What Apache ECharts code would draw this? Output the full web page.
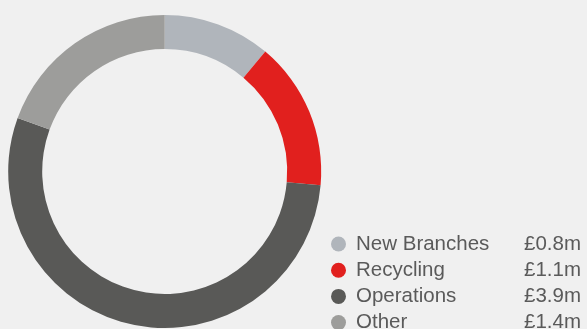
<!DOCTYPE html>
<html><head><meta charset="utf-8">
<script src="https://cdn.jsdelivr.net/npm/echarts@6/dist/echarts.min.js"></script>
<style>html,body{margin:0;padding:0;background:#f0f0f0;}#c{width:587px;height:329px;}</style>
</head><body><div id="c"></div>
<script>
const categories = ['New Branches', 'Recycling', 'Operations', 'Other'];
const values = [0.8, 1.1, 3.9, 1.4];
const colors = ['#b0b5bb', '#e1201e', '#595957', '#9d9d9b'];

const chart = echarts.init(document.getElementById('c'), null, {renderer: 'canvas'});
const data = categories.map((n, i) => ({name: n, value: values[i], itemStyle: {color: colors[i]}}));
const ff = 'Liberation Sans, Arial, sans-serif';
const fs = 20.5;
const ctx = document.createElement('canvas').getContext('2d');
ctx.font = fs + 'px ' + ff;
const rich = {
  n: {width: 160, padding: [0, 0, 0, 5], fontSize: fs, color: '#5a5a5a', fontFamily: ff}
};
categories.forEach((c, i) => {
  const t = '£' + values[i].toFixed(1) + 'm';
  const w = ctx.measureText(t).width;
  rich['v' + i] = {padding: [0, 0, 0, Math.max(0, 65 - w)], fontSize: fs, color: '#5a5a5a', fontFamily: ff};
});
chart.setOption({
  backgroundColor: '#f0f0f0',
  animation: false,
  legend: {
    orient: 'vertical',
    left: 331,
    top: 233.5,
    height: 120,
    padding: 0,
    itemGap: 5.2,
    itemWidth: 15,
    itemHeight: 15,
    icon: 'circle',
    selectedMode: false,
    data: categories,
    formatter: function (name) {
      const i = categories.indexOf(name);
      return '{n|' + name + '}{v' + i + '|£' + values[i].toFixed(1) + 'm}';
    },
    textStyle: {
      color: '#5a5a5a',
      fontFamily: ff,
      fontSize: fs,
      rich: rich
    }
  },
  series: [{
    type: 'pie',
    center: [164.7, 171.5],
    radius: [122.5, 156.5],
    startAngle: 90,
    clockwise: true,
    label: {show: false},
    labelLine: {show: false},
    emphasis: {disabled: true},
    itemStyle: {borderWidth: 0},
    data: data
  }]
});
</script>
</body></html>
